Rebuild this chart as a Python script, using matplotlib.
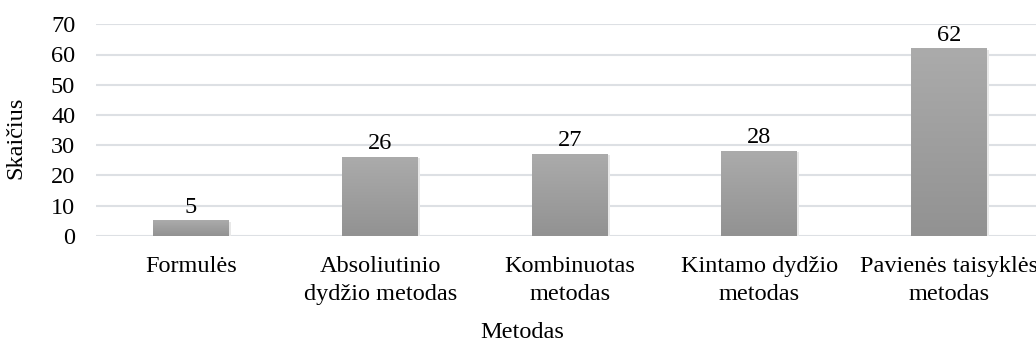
import numpy as np
import matplotlib.pyplot as plt
from matplotlib.colors import LinearSegmentedColormap

# data
categories = ['Formulės', 'Absoliutinio\ndydžio metodas', 'Kombinuotas\nmetodas',
              'Kintamo dydžio\nmetodas', 'Pavienės taisyklės\nmetodas']
counts = [5, 26, 27, 28, 62]
yticks = [0, 10, 20, 30, 40, 50, 60, 70]

plt.rcParams['font.family'] = ['Liberation Serif', 'DejaVu Serif']
fs = 17.5

fig = plt.figure(figsize=(10.36, 3.49), dpi=100)
ax = fig.add_axes([96 / 1036, 1 - 235.7 / 349, (1036 - 96) / 1036, (235.7 - 24.3) / 349])

x = np.arange(len(categories))
bars = ax.bar(x, counts, width=0.40, color='none', zorder=3)

# gradient fill for each bar
grad = np.linspace(0, 1, 100).reshape(-1, 1)
cmap = LinearSegmentedColormap.from_list('g', ['#929292', '#ababab'])
for b in bars:
    x0, y0, w, h = b.get_x(), b.get_y(), b.get_width(), b.get_height()
    # faint shadow
    ax.bar(x0 + w / 2 + 0.012, h, width=w, bottom=-0.4, color='#e8e8e8', zorder=2.5)
    ax.imshow(grad, extent=(x0, x0 + w, y0, y0 + h), origin='lower', cmap=cmap,
              aspect='auto', zorder=3)

for xi, c in zip(x, counts):
    ax.annotate(str(c), (xi, c), xytext=(0, 2), textcoords='offset points',
                ha='center', va='bottom', fontsize=fs)

ax.set_xlim(-0.5, 4.46)
ax.set_ylim(0, 70)
ax.set_yticks(yticks)
ax.set_xticks(x)
ax.set_xticklabels(categories, linespacing=1.45)
ax.tick_params(axis='both', length=0, colors='black', labelsize=fs)
ax.tick_params(axis='y', pad=15)
ax.tick_params(axis='x', pad=14.5)
ax.grid(axis='y', color='#dde0e4', linewidth=1.5, zorder=0)
ax.set_axisbelow(True)
for s in ax.spines.values():
    s.set_visible(False)

ax.set_ylabel('Skaičius', fontsize=fs)
ax.set_xlabel('Metodas', fontsize=fs)
ax.yaxis.set_label_coords(-70 / 940, 0.462)
ax.xaxis.set_label_coords(0.453, -0.41)

fig.savefig('out.png', dpi=100)
